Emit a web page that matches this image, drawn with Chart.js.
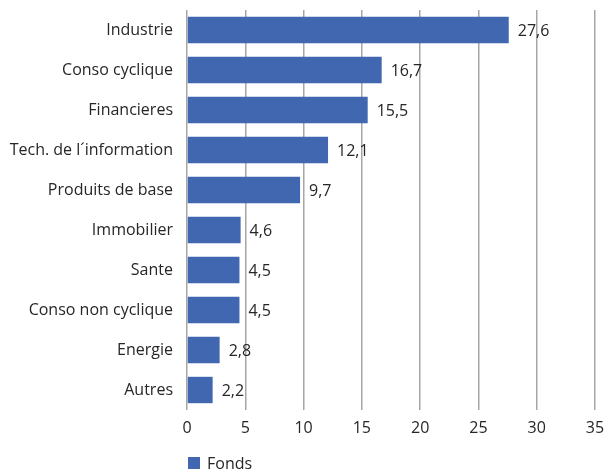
<!DOCTYPE html>
<html>
<head>
<meta charset="utf-8">
<script src="https://cdn.jsdelivr.net/npm/chart.js@4.4.1/dist/chart.umd.min.js"></script>
<style>
  html, body { margin: 0; padding: 0; background: #fff; }
  #wrap { width: 607px; height: 472px; }
</style>
</head>
<body>
<div id="wrap"><canvas id="myChart" width="607" height="472"></canvas></div>
<script>
// Chart data
const categories = ['Industrie', 'Conso cyclique', 'Financieres', 'Tech. de l\u00b4information',
    'Produits de base', 'Immobilier', 'Sante', 'Conso non cyclique', 'Energie', 'Autres'];
const fondsValues = [27.6, 16.7, 15.5, 12.1, 9.7, 4.6, 4.5, 4.5, 2.8, 2.2];
const seriesName = 'Fonds';
const xTicks = [0, 5, 10, 15, 20, 25, 30, 35];

const barColor = '#4067b0';
const textColor = '#262626';
const fontFamily = '"Open Sans", "Noto Sans", sans-serif';

// Draw value labels at the end of each bar
const valueLabels = {
    id: 'valueLabels',
    afterDatasetsDraw(chart) {
        const ctx = chart.ctx;
        const meta = chart.getDatasetMeta(0);
        ctx.save();
        ctx.font = '16px ' + fontFamily;
        ctx.fillStyle = textColor;
        ctx.textAlign = 'left';
        ctx.textBaseline = 'middle';
        meta.data.forEach((bar, i) => {
            const label = String(fondsValues[i]).replace('.', ',');
            ctx.fillText(label, bar.x + 9, bar.y + 1);
        });
        ctx.restore();
    }
};

// Simple legend under the x axis, lined up with the plot's left edge
const bottomLegend = {
    id: 'bottomLegend',
    afterDraw(chart) {
        const ctx = chart.ctx;
        const left = chart.chartArea.left + 1;
        const y = chart.height - 9;
        ctx.save();
        chart.data.datasets.forEach(ds => {
            ctx.fillStyle = ds.backgroundColor;
            ctx.fillRect(left, y - 6, 12, 12);
            ctx.font = '16px ' + fontFamily;
            ctx.fillStyle = textColor;
            ctx.textAlign = 'left';
            ctx.textBaseline = 'middle';
            ctx.fillText(ds.label, left + 19, y + 1);
        });
        ctx.restore();
    }
};

const ctx = document.getElementById('myChart').getContext('2d');
const myChart = new Chart(ctx, {
    type: 'bar',
    data: {
        labels: categories,
        datasets: [{
            label: seriesName,
            data: fondsValues,
            backgroundColor: barColor,
            borderWidth: 0,
            categoryPercentage: 1,
            barPercentage: 0.66
        }]
    },
    options: {
        indexAxis: 'y',
        responsive: false,
        animation: false,
        layout: {
            padding: { top: 10, right: 12, bottom: 18, left: 0 }
        },
        scales: {
            x: {
                min: 0,
                max: 35,
                afterBuildTicks: scale => {
                    scale.ticks = xTicks.map(v => ({ value: v }));
                },
                afterFit: scale => {
                    scale.height = 44;
                    scale.paddingLeft = 0;
                    scale.paddingRight = 0;
                },
                grid: {
                    color: '#a6a6a6',
                    lineWidth: 1.5,
                    drawTicks: true,
                    tickLength: 0
                },
                border: { display: false },
                ticks: {
                    color: textColor,
                    padding: 9,
                    font: { family: fontFamily, size: 16 }
                }
            },
            y: {
                afterFit: scale => {
                    scale.width = 187;
                    scale.paddingTop = 0;
                    scale.paddingBottom = 0;
                },
                grid: { display: false },
                border: { display: false },
                ticks: {
                    color: textColor,
                    padding: 6,
                    font: { family: fontFamily, size: 16 }
                }
            }
        },
        plugins: {
            legend: { display: false },
            tooltip: { enabled: false }
        }
    },
    plugins: [valueLabels, bottomLegend]
});
</script>
</body>
</html>
